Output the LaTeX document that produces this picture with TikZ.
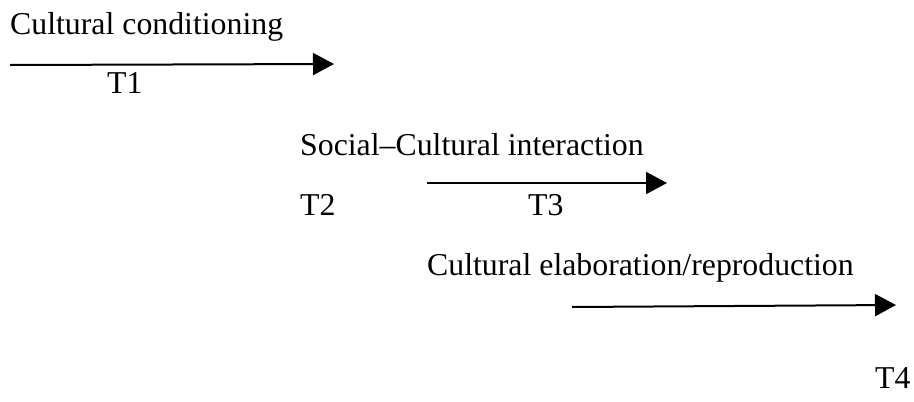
\documentclass[tikz,border=0pt]{standalone}
\usepackage{fontspec}
\setmainfont{Liberation Serif}
\usetikzlibrary{arrows.meta,positioning}
\tikzset{
  phaseln/.style={-{Triangle[length=21pt,width=22pt]}, line width=2pt},
  phasetxt/.style={anchor=base west, inner sep=0pt, font=\fontsize{31.8}{38}\selectfont},
}

\begin{document}
\begin{tikzpicture}[x=1pt, y=-1pt]
    \useasboundingbox (0,0) rectangle (914,402);
    % phase 1
    \node[phasetxt] (cond) at (10,34) {Cultural conditioning};
    \coordinate (c1s) at (10,65);
    \coordinate (c1e) at (334,64);
    \draw[phaseln] (c1s) -- (c1e);
    \node[phasetxt] (t1) at (107,93) {T1};
    % phase 2
    \node[phasetxt] (inter) at (300,155) {Social--Cultural interaction};
    \node[phasetxt] (t2) at (300,215) {T2};
    \coordinate (c2s) at (427,183);
    \coordinate (c2e) at (667,183);
    \draw[phaseln] (c2s) -- (c2e);
    \node[phasetxt] (t3) at (528,215) {T3};
    % phase 3
    \node[phasetxt] (elab) at (427,275) {Cultural elaboration/reproduction};
    \coordinate (c3s) at (572,307);
    \coordinate (c3e) at (896,305);
    \draw[phaseln] (c3s) -- (c3e);
    \node[phasetxt] (t4) at (875,388) {T4};
\end{tikzpicture}
\end{document}
